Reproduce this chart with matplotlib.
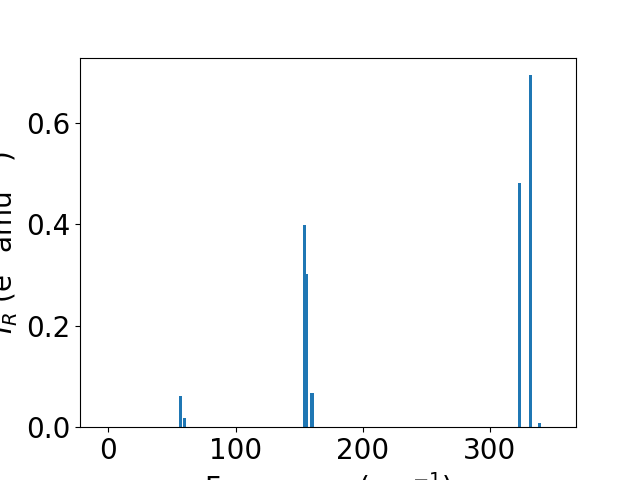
import numpy as np
import matplotlib
matplotlib.use("Agg")
import matplotlib.pyplot as plt

# частоты мод (cm^-1) и интенсивности
freqs = [56.7, 59.7, 154.3, 156.0, 160.2, 323.2, 332.3, 339.4]
intensities = [0.062, 0.018, 0.399, 0.302, 0.068, 0.481, 0.694, 0.0085]

plt.rcParams['font.size'] = 20

fig, ax = plt.subplots(figsize=(6.4, 4.8), dpi=100)
ax.bar(freqs, intensities, width=2.4, color='C0')
ax.set_xlim(-22.4, 368)
ax.set_xlabel("Frequency (cm$^{-1}$)")
ax.set_ylabel("$I_R$ (e$^2$ amu$^{-1}$)")

fig.savefig("out.png", dpi=100)
